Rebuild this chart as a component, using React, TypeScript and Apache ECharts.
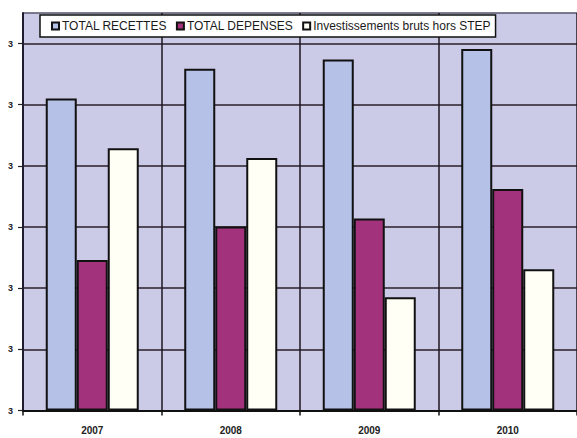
import React, { useEffect, useRef } from "react";
import * as echarts from "echarts";

const years = ["2007", "2008", "2009", "2010"];
const totalRecettes = [5.1, 5.59, 5.74, 5.91];
const totalDepenses = [2.46, 3.01, 3.14, 3.62];
const investissements = [4.29, 4.13, 1.85, 2.31];
const yTickLabels = ["3", "3", "3", "3", "3", "3", "3"];
const seriesNames = ["TOTAL RECETTES", "TOTAL DEPENSES", "Investissements bruts hors STEP"];

export default function App() {
  const ref = useRef<HTMLDivElement>(null);
  useEffect(() => {
    if (!ref.current) return;
    const chart = echarts.init(ref.current, null, { renderer: "svg" });
    const barBase = {
      type: "bar" as const,
      barWidth: 31,
      barGap: "0%",
    };
    chart.setOption({
      animation: false,
      backgroundColor: "#ffffff",
      textStyle: { fontFamily: "Liberation Sans, Arial, sans-serif" },
      grid: {
        left: 23,
        right: -5,
        top: 13,
        bottom: 27.5,
        show: true,
        backgroundColor: "#cbcae7",
        borderWidth: 0,
      },
      legend: {
        left: 40,
        top: 15,
        data: seriesNames,
        backgroundColor: "#ffffff",
        borderColor: "#111111",
        borderWidth: 1.5,
        borderRadius: 0,
        padding: [5, 5, 5, 11],
        itemWidth: 7,
        itemHeight: 7,
        itemGap: 9,
        icon: "rect",
        textStyle: {
          fontSize: 12,
          color: "#1a1a1a",
          padding: [0, 0, 0, -2],
        },
      },
      xAxis: {
        type: "category",
        data: years,
        axisLine: { show: true, lineStyle: { color: "#111111", width: 2 } },
        axisTick: { show: true, length: 5, lineStyle: { color: "#111111", width: 1.5 } },
        axisLabel: { color: "#222222", fontSize: 10, fontWeight: "bold", margin: 15 },
        splitLine: { show: true, lineStyle: { color: "#1e1620", width: 1.5 } },
      },
      yAxis: {
        type: "value",
        min: 0,
        max: 6.5,
        interval: 1,
        axisLine: { show: true, lineStyle: { color: "#1e1c30", width: 2 } },
        axisTick: { show: true, length: 5, lineStyle: { color: "#222222", width: 1.2 } },
        axisLabel: {
          color: "#222222",
          fontSize: 9,
          fontWeight: "bold",
          margin: 10,
          showMaxLabel: false,
          formatter: (v: number) => (Number.isInteger(v) ? yTickLabels[v] ?? "" : ""),
        },
        splitLine: {
          show: true,
          lineStyle: {
            color: ["#2a1e2a", "#2a1e2a", "#2a1e2a", "#2a1e2a", "#2a1e2a", "#2a1e2a", "#2a1e2a", "#55556a"],
            width: 1.5,
          },
        },
      },
      series: [
        {
          ...barBase,
          name: seriesNames[0],
          data: totalRecettes,
          itemStyle: { color: "#b5c1e6", borderColor: "#111111", borderWidth: 2 },
        },
        {
          ...barBase,
          name: seriesNames[1],
          data: totalDepenses,
          itemStyle: { color: "#a3327c", borderColor: "#111111", borderWidth: 2 },
        },
        {
          ...barBase,
          name: seriesNames[2],
          data: investissements,
          itemStyle: { color: "#fffff6", borderColor: "#111111", borderWidth: 2 },
        },
      ],
    });
    return () => chart.dispose();
  }, []);
  return <div ref={ref} style={{ width: 577, height: 438, position: "absolute", left: 0, top: 0 }} />;
}
